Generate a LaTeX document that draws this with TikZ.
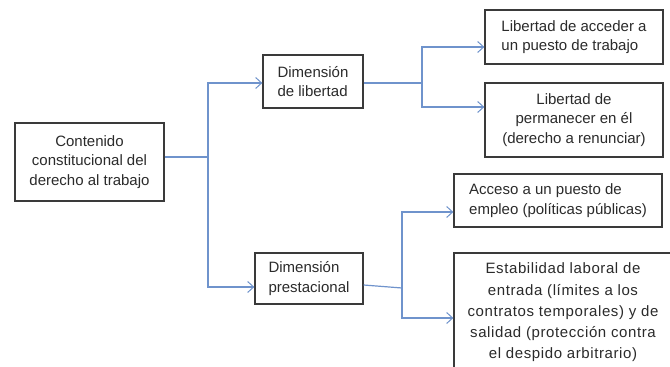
\documentclass[tikz,border=0pt]{standalone}
\usepackage{fontspec}
\setmainfont{Liberation Sans}
\usetikzlibrary{arrows.meta}
\definecolor{lineblue}{HTML}{6F93CC}
\definecolor{boxgray}{HTML}{3A3A3A}
\definecolor{txt}{HTML}{2B2B2B}
\begin{document}
\begin{tikzpicture}[x=1pt,y=-1pt,
  box/.style={draw=boxgray,line width=1.3pt,inner sep=0pt,text=txt,
    font=\fontsize{15}{19.5}\selectfont},
  conn/.style={draw=lineblue,line width=1.2pt},
  arr/.style={conn,-{Straight Barb[length=6pt,width=11pt,line width=1pt]}}]
\useasboundingbox (0,0) rectangle (670,367);
\fill[white] (0,0) rectangle (670,367);

\node[box,minimum width=149pt,minimum height=78pt,align=center] (A) at (89.5,162)
  {Contenido\\constitucional del\\derecho al trabajo};
\node[box,minimum width=100pt,minimum height=53pt,align=left] (B) at (313,81.5)
  {Dimensión\\de libertad};
\node[box,minimum width=108pt,minimum height=51pt,align=left] (C) at (309,278.5)
  {Dimensión\\prestacional};
\node[box,minimum width=178pt,minimum height=54pt,align=left] (D) at (574,37)
  {Libertad de acceder a\\un puesto de trabajo};
\node[box,minimum width=178pt,minimum height=74pt,align=center] (E) at (574,120)
  {Libertad de\\permanecer en él\\(derecho a renunciar)};
\node[box,minimum width=208pt,minimum height=53pt,align=left] (F) at (558,200.5)
  {Acceso a un puesto de\\empleo (políticas públicas)};
\begin{scope}
\clip (0,0) rectangle (670,367);
\node[box,minimum width=218pt,minimum height=119pt,align=center,
  font=\fontsize{15}{21.3}\selectfont\addfontfeatures{LetterSpace=4}] (G) at (563,312.5)
  {Estabilidad laboral de\\entrada (límites a los\\contratos temporales) y de\\salidad (protección contra\\el despido arbitrario)};
\end{scope}

\coordinate (j1) at (208,157);
\coordinate (j2) at (422,83);
\coordinate (j3) at (402,288);

\draw[conn] (A.east |- j1) -- (j1);
\draw[arr] (j1) |- (B.west |- 0,83);
\draw[arr] (j1) |- (C.west |- 0,287);

\draw[conn] (B.east |- j2) -- (j2);
\draw[arr] (j2) |- (D.west |- 0,47);
\draw[arr] (j2) |- (E.west |- 0,107);

\draw[conn] (C.east |- 0,285) -- (j3);
\draw[arr] (j3) |- (F.west |- 0,212);
\draw[arr] (j3) |- (G.west |- 0,318);
\end{tikzpicture}
\end{document}
